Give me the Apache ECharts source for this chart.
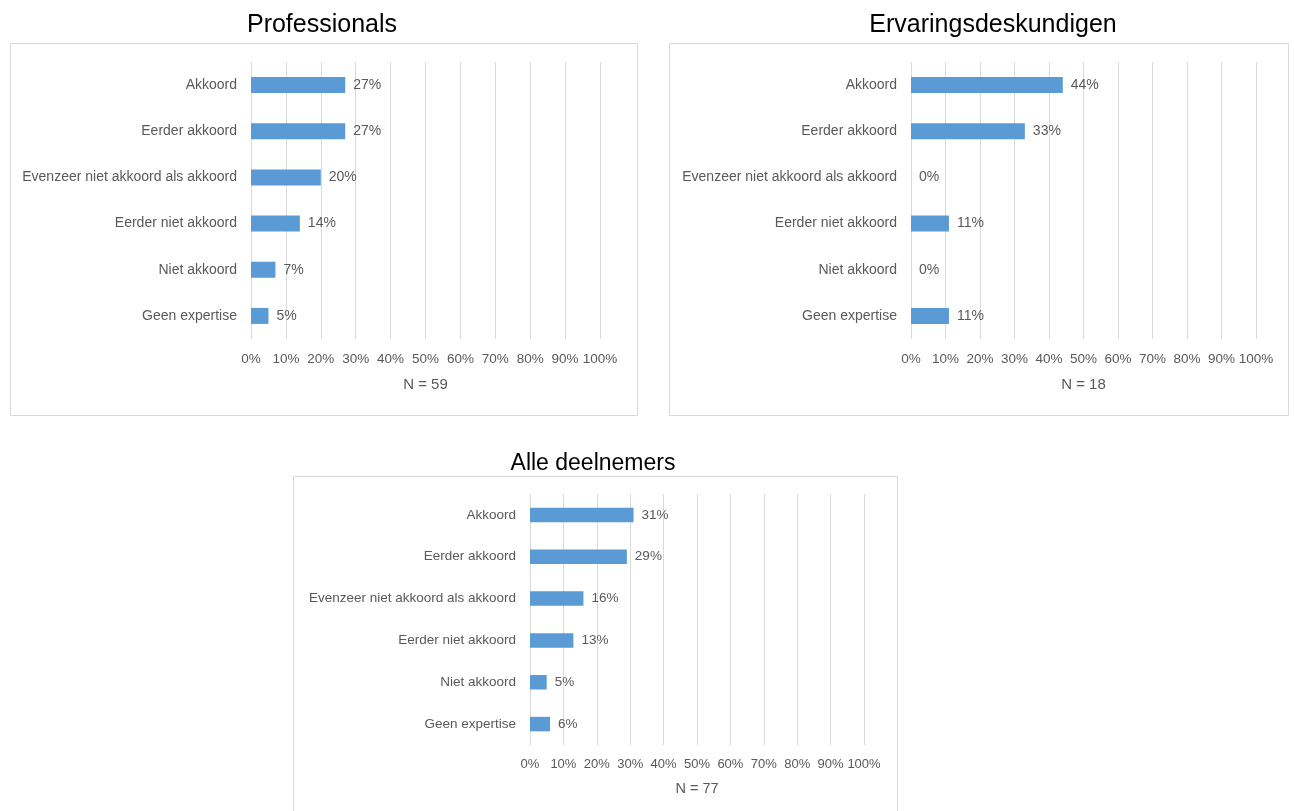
<!DOCTYPE html>
<html>
<head>
<meta charset="utf-8">
<script src="https://cdn.jsdelivr.net/npm/echarts@6/dist/echarts.min.js"></script>
<style>
html,body{margin:0;padding:0;background:#fff;}
#main{width:1294px;height:811px;}
</style>
</head>
<body>
<div id="main"></div>
<script>
const categories = ['Akkoord','Eerder akkoord','Evenzeer niet akkoord als akkoord','Eerder niet akkoord','Niet akkoord','Geen expertise'];
const professionals = [27,27,20,14,7,5];
const ervaringsdeskundigen = [44,33,0,11,0,11];
const alleDeelnemers = [31,29,16,13,5,6];
const titles = ['Professionals','Ervaringsdeskundigen','Alle deelnemers'];
const nLabels = ['N = 59','N = 18','N = 77'];
const seriesData = [professionals, ervaringsdeskundigen, alleDeelnemers];

const FONT = 'Liberation Sans, Arial, sans-serif';
const GRAY = '#595959';
const layout = [
  {grid:{left:251,top:62,width:349,height:277}, box:[10,43,627,372], title:[322,25,25], cat:14, tick:13.5, val:14, n:15, nGap:38, barW:16},
  {grid:{left:911,top:62,width:345,height:277}, box:[669,43,619,372], title:[993,25,25], cat:14, tick:13.5, val:14, n:15, nGap:38, barW:16},
  {grid:{left:530,top:494,width:334,height:251}, box:[293,476,604,340], title:[593,464,23], cat:13.5, tick:13, val:13.5, n:14.5, nGap:36, barW:14.5}
];

const option = {
  backgroundColor:'#fff',
  animation:false,
  title: layout.map((l,i)=>({
    text:titles[i], left:l.title[0], top:l.title[1]-l.title[2]/2, textAlign:'center', padding:0,
    textStyle:{fontSize:l.title[2], fontWeight:'normal', color:'#000', fontFamily:FONT}
  })),
  graphic: layout.map(l=>({
    type:'rect', silent:true, z:-1,
    shape:{x:l.box[0]+0.5, y:l.box[1]+0.5, width:l.box[2], height:l.box[3]},
    style:{fill:'none', stroke:'#D9D9D9', lineWidth:1}
  })),
  grid: layout.map(l=>Object.assign({containLabel:false}, l.grid)),
  xAxis: layout.map((l,i)=>({
    type:'value', gridIndex:i, min:0, max:100, interval:10,
    name:nLabels[i], nameLocation:'middle', nameGap:l.nGap,
    nameTextStyle:{fontSize:l.n, color:GRAY, fontFamily:FONT},
    axisLine:{show:false}, axisTick:{show:false},
    axisLabel:{formatter:'{value}%', fontSize:l.tick, color:GRAY, fontFamily:FONT, margin:13},
    splitLine:{show:true, lineStyle:{color:'#D9D9D9', width:1}}
  })),
  yAxis: layout.map((l,i)=>({
    type:'category', gridIndex:i, data:categories, inverse:true,
    axisLine:{show:false}, axisTick:{show:false},
    axisLabel:{fontSize:l.cat, color:GRAY, fontFamily:FONT, margin:14},
    splitLine:{show:false}
  })),
  series: layout.map((l,i)=>({
    type:'bar', xAxisIndex:i, yAxisIndex:i, data:seriesData[i], barWidth:l.barW,
    itemStyle:{color:'#5B9BD5'},
    label:{show:true, position:'right', distance:8, formatter:'{c}%', fontSize:l.val, color:GRAY, fontFamily:FONT}
  }))
};
const chart = echarts.init(document.getElementById('main'), null, {renderer:'canvas'});
chart.setOption(option);
</script>
</body>
</html>
